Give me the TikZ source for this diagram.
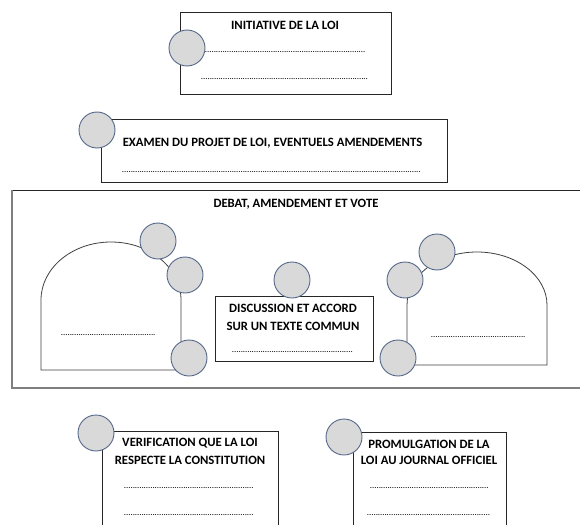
\documentclass[tikz,border=0pt]{standalone}
\usepackage{fontspec}
\setmainfont{Carlito}
\newcommand{\dotrow}[1]{\hbox to #1{\leaders\hbox to 2.2pt{\hss.\hss}\hfill}}
\definecolor{bubblefill}{HTML}{D9D9D9}
\definecolor{bubbleline}{HTML}{56688A}
\definecolor{boxline}{HTML}{262626}
\definecolor{domeline}{HTML}{404040}
\definecolor{frameline}{HTML}{7F7F7F}
\begin{document}
\begin{tikzpicture}[x=1pt,y=-1pt,
  bubble/.style={circle, draw=bubbleline, fill=bubblefill, line width=0.9pt, minimum size=36pt, inner sep=0pt},
  boxframe/.style={draw=boxline, line width=0.8pt, fill=white, anchor=north west, inner sep=0pt},
  dome/.style={draw=domeline, line width=0.8pt},
  ttl/.style={font=\bfseries\fontsize{12.7}{14}\selectfont, inner sep=0pt},
  dots/.style={font=\fontsize{9}{10}\selectfont, inner sep=0pt}]
\useasboundingbox (0,0) rectangle (580,524);
\clip (0,0) rectangle (580,524);
\fill[white] (0,0) rectangle (580,524);

% box 1
\node[boxframe, minimum width=211pt, minimum height=82pt] (b1) at (180,12) {};
\node[ttl] (t1) at (285,25) {INITIATIVE DE LA LOI};
\node[dots] (d1a) at (286,52) {\dotrow{162pt}};
\node[dots] (d1b) at (285.5,79) {\dotrow{169pt}};
\node[bubble] (c1) at (187,48) {};

% box 2
\node[boxframe, minimum width=346pt, minimum height=63pt] (b2) at (101,119) {};
\node[ttl] (t2) at (272.5,143) {EXAMEN DU PROJET DE LOI, EVENTUELS AMENDEMENTS};
\node[dots] (d2) at (272.5,172) {\dotrow{301pt}};
\node[bubble] (c2) at (97,130) {};

% big frame
\draw[boxline, line width=0.8pt] (12,190) -- (600,190);
\draw[frameline, line width=1.3pt] (12,190) -- (12,388) -- (600,388);
\node[ttl] (t3) at (296,204) {DEBAT, AMENDEMENT ET VOTE};

% left dome
\draw[dome] (41,370) -- (41,300) arc[start angle=180, end angle=0, x radius=70pt, y radius=58pt] -- (181,370) -- cycle;
\node[dots] (d4) at (109,335) {\dotrow{96pt}};
\node[bubble] (c4a) at (158,241) {};
\node[bubble] (c4b) at (185,275) {};
\node[bubble] (c4c) at (189,358) {};

% central box
\node[boxframe, minimum width=158pt, minimum height=65pt] (b5) at (215,296) {};
\node[ttl] (t5a) at (293,308) {DISCUSSION ET ACCORD};
\node[ttl] (t5b) at (293,326) {SUR UN TEXTE COMMUN};
\node[dots] (d5) at (293,352) {\dotrow{122pt}};
\node[bubble] (c5) at (292,280) {};

% right dome
\draw[dome] (407,365) -- (407,305) arc[start angle=180, end angle=0, x radius=70pt, y radius=53pt] -- (547,365) -- cycle;
\node[dots] (d6) at (478.5,337) {\dotrow{95pt}};
\node[bubble] (c6a) at (437,252) {};
\node[bubble] (c6b) at (405,280) {};
\node[bubble] (c6c) at (398,358) {};

% bottom left box
\node[boxframe, minimum width=176pt, minimum height=120pt] (b7) at (102,431) {};
\node[ttl] (t7a) at (190,443) {VERIFICATION QUE LA LOI};
\node[ttl] (t7b) at (190,460) {RESPECTE LA CONSTITUTION};
\node[dots] (d7a) at (189.5,488) {\dotrow{131pt}};
\node[dots] (d7b) at (189.5,515) {\dotrow{131pt}};
\node[bubble] (c7) at (96,433) {};

% bottom right box
\node[boxframe, minimum width=153pt, minimum height=120pt] (b8) at (353,432) {};
\node[ttl] (t8a) at (429,444) {PROMULGATION DE LA};
\node[ttl] (t8b) at (429,460) {LOI AU JOURNAL OFFICIEL};
\node[dots] (d8a) at (429.5,488) {\dotrow{119pt}};
\node[dots] (d8b) at (429.5,515) {\dotrow{125pt}};
\node[bubble] (c8) at (344,437) {};
\end{tikzpicture}
\end{document}
